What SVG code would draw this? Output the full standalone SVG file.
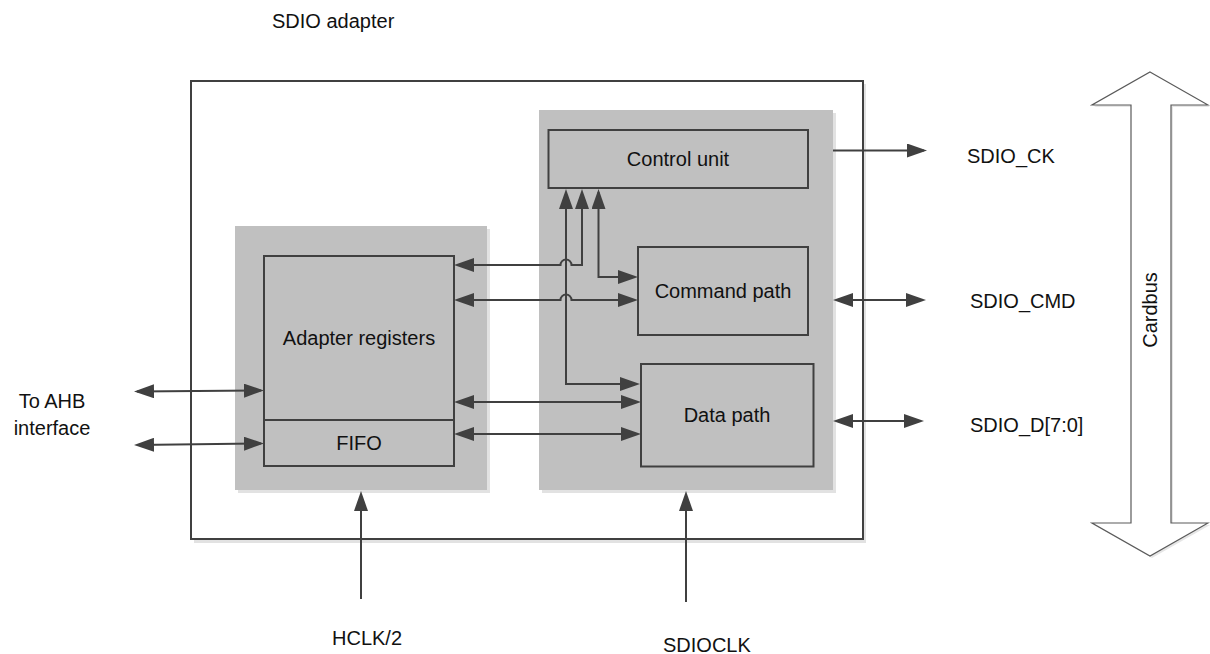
<svg xmlns="http://www.w3.org/2000/svg" width="1210" height="654" viewBox="0 0 1210 654">
<defs>
<style>
text{font-family:"Liberation Sans",Arial,sans-serif;font-size:20px;fill:#111}
.mid{text-anchor:middle}
.panel{fill:#c0c0c0;stroke:none}
.shadow{fill:#e2e2e2;stroke:none}
.box{fill:#c0c0c0;stroke:#404040;stroke-width:2}
.conn{fill:none;stroke:#404040;stroke-width:2}
</style>
<marker id="ah" markerUnits="userSpaceOnUse" markerWidth="20" markerHeight="14" refX="17" refY="7" orient="auto-start-reverse" viewBox="0 0 20 14">
<path d="M0,0 L20,7 L0,14 z" fill="#404040"/>
</marker>
</defs>
<rect width="1210" height="654" fill="#fff"/>

<g id="sdio-adapter">
<rect class="shadow" x="194" y="84" width="672" height="459"/>
<rect x="191" y="81" width="672" height="458" fill="#fff" stroke="#404040" stroke-width="2"/>
<text x="272" y="28">SDIO adapter</text>
</g>

<g id="left-panel">
<rect class="shadow" x="238" y="229" width="252" height="264"/>
<rect class="panel" x="235" y="226" width="252" height="264"/>
</g>
<g id="right-panel">
<rect class="shadow" x="542" y="113" width="294" height="380"/>
<rect class="panel" x="539" y="110" width="294" height="380"/>
</g>

<g id="adapter-registers">
<rect class="box" x="264" y="256" width="190" height="164"/>
<text class="mid" x="359" y="345">Adapter registers</text>
</g>
<g id="fifo">
<rect class="box" x="264" y="420" width="190" height="46"/>
<text class="mid" x="359" y="450">FIFO</text>
</g>
<g id="control-unit">
<rect class="box" x="548.5" y="130" width="259.5" height="58"/>
<text class="mid" x="678" y="166">Control unit</text>
</g>
<g id="command-path">
<rect class="box" x="638" y="247" width="170" height="88"/>
<text class="mid" x="723" y="298">Command path</text>
</g>
<g id="data-path">
<rect class="box" x="641" y="364" width="172.5" height="102.5"/>
<text class="mid" x="727" y="421.5">Data path</text>
</g>

<g id="cardbus">
<polygon points="1152,74 1210,107 1173,107 1173,525 1210,525 1152,558 1094,525 1133,525 1133,107 1094,107" fill="#e6e6e6"/>
<polygon points="1150,72 1208,105 1171,105 1171,523 1208,523 1150,556 1092,523 1131,523 1131,105 1092,105" fill="#fff" stroke="#5a5a5a" stroke-width="1.2"/>
<text class="mid" transform="translate(1157,310) rotate(-90)">Cardbus</text>
</g>

<g id="connectors">
<path class="conn" d="M566,192 V384 H637" marker-start="url(#ah)" marker-end="url(#ah)"/>
<path class="conn" d="M582,192 V265 H571.5 A5.5 5.5 0 0 0 560.5 265 H457" marker-start="url(#ah)" marker-end="url(#ah)"/>
<path class="conn" d="M598.5,192 V277 H635" marker-start="url(#ah)" marker-end="url(#ah)"/>
<path class="conn" d="M457,300 H560.5 A5.5 5.5 0 0 1 571.5 300 H635" marker-start="url(#ah)" marker-end="url(#ah)"/>
<path class="conn" d="M457,402 H638" marker-start="url(#ah)" marker-end="url(#ah)"/>
<path class="conn" d="M457,434 H638" marker-start="url(#ah)" marker-end="url(#ah)"/>
<path class="conn" d="M137,391.5 L261,390.5" marker-start="url(#ah)" marker-end="url(#ah)"/>
<path class="conn" d="M137,445 L261,443.5" marker-start="url(#ah)" marker-end="url(#ah)"/>
<path class="conn" d="M833,150.5 H924" marker-end="url(#ah)"/>
<path class="conn" d="M836,300 H923" marker-start="url(#ah)" marker-end="url(#ah)"/>
<path class="conn" d="M836,421 H921" marker-start="url(#ah)" marker-end="url(#ah)"/>
<path class="conn" d="M361,599 V494" marker-end="url(#ah)"/>
<path class="conn" d="M686,602 V494" marker-end="url(#ah)"/>
</g>

<g id="labels">
<text x="967" y="163">SDIO_CK</text>
<text x="970" y="308">SDIO_CMD</text>
<text x="970" y="432">SDIO_D[7:0]</text>
<text class="mid" x="52" y="408">To AHB</text>
<text class="mid" x="52" y="435">interface</text>
<text x="332" y="645">HCLK/2</text>
<text x="663" y="651.5">SDIOCLK</text>
</g>
</svg>
